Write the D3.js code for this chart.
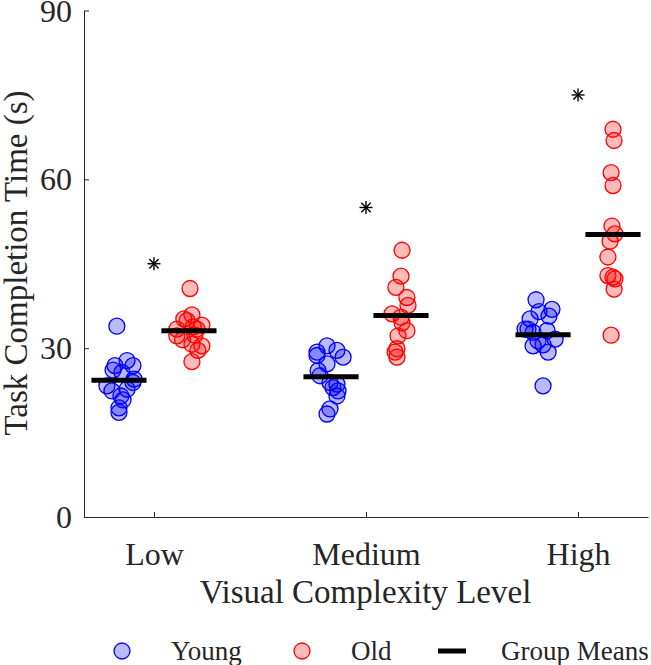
<!DOCTYPE html>
<html>
<head>
<meta charset="utf-8">
<script src="https://cdn.jsdelivr.net/npm/d3@7"></script>
<style>
  html, body { margin: 0; padding: 0; background: #fff; }
  svg { display: block; }
  text { font-family: "Liberation Serif", "Times New Roman", serif; fill: #262626; }
</style>
</head>
<body>
<svg id="chart" width="651" height="665"></svg>
<script>
// ---- data ----
const categories = ["Low", "Medium", "High"];
const groups = ["Young", "Old"];
const yTicks = [0, 30, 60, 90];

// individual times (s) per category, and horizontal jitter (category units)
const youngLow    = [33.9, 27.8, 26.9, 26.9, 26.1, 25.7, 24.5, 23.9, 23.3, 22.7, 22.4, 21.5, 20.8, 19.4, 18.6];
const youngLowJit = [-0.01, 0.038, -0.019, 0.066, -0.028, 0.014, 0.071, 0.066, -0.057, 0.038, -0.033, 0.009, 0.019, 0, 0];
const oldLow      = [40.6, 35.9, 35.2, 34.9, 34.1, 33.4, 33.4, 32.2, 32.3, 30.7, 30.4, 29.6, 27.6, 33.8, 31.5];
const oldLowJit   = [0.005, 0.014, -0.024, -0.009, 0.061, -0.057, 0.038, -0.057, 0.028, 0.014, 0.061, 0.042, 0.014, 0.02, -0.03];
const youngMed    = [30.4, 29.3, 29.6, 28.4, 28.7, 27.2, 26.0, 25.1, 23.9, 23.0, 22.4, 21.5, 19.2, 18.3, 23.6];
const youngMedJit = [-0.019, -0.066, 0.028, 0.057, -0.066, -0.019, -0.061, -0.052, -0.005, 0.009, 0.033, 0.028, -0.005, -0.019, 0.028];
const oldMed      = [47.4, 42.8, 40.8, 39.0, 37.6, 36.1, 35.5, 34.5, 33.1, 32.2, 29.9, 29.3, 28.4];
const oldMedJit   = [0.005, 0, -0.024, 0.028, 0.033, -0.042, 0, 0.005, 0.028, -0.014, -0.019, -0.028, -0.019];
const youngHigh   = [38.6, 36.9, 36.5, 35.7, 35.2, 33.4, 33.1, 32.8, 31.6, 31.3, 30.4, 30.6, 29.3, 23.3, 33.4];
const youngHighJit= [-0.033, 0.042, -0.019, 0.028, -0.061, -0.071, 0.019, -0.047, 0.057, -0.024, -0.047, 0, 0.024, 0, -0.085];
const oldHigh     = [68.9, 66.9, 61.2, 58.9, 51.7, 50.3, 49.0, 46.2, 42.9, 42.6, 42.3, 40.5, 32.3];
const oldHighJit  = [0, 0.005, -0.009, 0, -0.005, 0.009, -0.014, -0.024, -0.024, 0, 0.009, 0.005, -0.009];

const youngMeans = [24.3, 24.9, 32.4];
const oldMeans   = [33.1, 35.8, 50.2];
const sigMarks   = [45, 55, 75];   // asterisk heights

// ---- layout ----
const svg = d3.select("#chart");
const axisColor = "#262626";
const x = d3.scaleLinear().domain([0.67, 3.33]).range([84, 648]);
const y = d3.scaleLinear().domain([0, 90]).range([517, 10.5]);
const offset = 0.165;
const halfBar = 0.13;
const r = 8;

const colors = {
  Young: { stroke: "#0000ff", fill: "rgba(0,0,255,0.27)" },
  Old:   { stroke: "#ff0000", fill: "rgba(255,0,0,0.27)" }
};

const series = [
  { g: "Young", c: 0, v: youngLow,  j: youngLowJit },
  { g: "Old",   c: 0, v: oldLow,    j: oldLowJit },
  { g: "Young", c: 1, v: youngMed,  j: youngMedJit },
  { g: "Old",   c: 1, v: oldMed,    j: oldMedJit },
  { g: "Young", c: 2, v: youngHigh, j: youngHighJit },
  { g: "Old",   c: 2, v: oldHigh,   j: oldHighJit }
];

// ---- axes ----
const xAxis = d3.axisBottom(x).tickValues([1, 2, 3]).tickFormat((d) => categories[d - 1]).tickSizeInner(-5).tickSizeOuter(0);
const gx = svg.append("g").attr("transform", `translate(0,${y(0)})`).call(xAxis);
gx.select(".domain").attr("stroke", axisColor).attr("stroke-width", 1);
gx.selectAll(".tick line").attr("stroke", axisColor);
gx.selectAll(".tick text").attr("font-size", 32).attr("fill", axisColor)
  .attr("font-family", "Liberation Serif").attr("y", 0).attr("dy", 0)
  .attr("transform", "translate(0,48)");

const yAxis = d3.axisLeft(y).tickValues(yTicks).tickSizeInner(-5).tickSizeOuter(0);
const gy = svg.append("g").attr("transform", `translate(${x(0.67)},0)`).call(yAxis);
gy.select(".domain").attr("stroke", axisColor).attr("stroke-width", 1);
gy.selectAll(".tick line").attr("stroke", axisColor);
gy.selectAll(".tick text").attr("font-size", 32).attr("fill", axisColor)
  .attr("font-family", "Liberation Serif").attr("x", -12).attr("dy", "0.33em");

// axis titles
svg.append("text").attr("x", 365.5).attr("y", 603).attr("text-anchor", "middle")
  .attr("font-size", 33).text("Visual Complexity Level");
svg.append("text").attr("transform", "translate(27,263) rotate(-90)").attr("text-anchor", "middle")
  .attr("font-size", 33).text("Task Completion Time (s)");

// ---- points ----
series.forEach((s) => {
  const dx = s.g === "Young" ? -offset : offset;
  svg.append("g").selectAll("circle").data(s.v).join("circle")
    .attr("cx", (d, i) => x(s.c + 1 + dx + s.j[i]))
    .attr("cy", (d) => y(d))
    .attr("r", r)
    .attr("fill", colors[s.g].fill)
    .attr("stroke", colors[s.g].stroke)
    .attr("stroke-width", 1.3);
});

// ---- means ----
const meanData = [];
categories.forEach((c, i) => {
  meanData.push({ c: i + 1 - offset, v: youngMeans[i] });
  meanData.push({ c: i + 1 + offset, v: oldMeans[i] });
});
svg.append("g").selectAll("line").data(meanData).join("line")
  .attr("x1", (d) => x(d.c - halfBar)).attr("x2", (d) => x(d.c + halfBar))
  .attr("y1", (d) => y(d.v)).attr("y2", (d) => y(d.v))
  .attr("stroke", "#000").attr("stroke-width", 5);

// ---- significance asterisks ----
const star = svg.append("g").selectAll("g").data(sigMarks).join("g")
  .attr("transform", (d, i) => `translate(${x(i + 1)},${y(d)})`);
const s = 6.5;
[[-s, 0, s, 0], [0, -s, 0, s], [-s * 0.72, -s * 0.72, s * 0.72, s * 0.72], [-s * 0.72, s * 0.72, s * 0.72, -s * 0.72]].forEach((l) => {
  star.append("line").attr("x1", l[0]).attr("y1", l[1]).attr("x2", l[2]).attr("y2", l[3])
    .attr("stroke", "#000").attr("stroke-width", 1.4);
});

// ---- legend ----
const leg = svg.append("g");
const ly = 651;
leg.append("circle").attr("cx", 122).attr("cy", ly).attr("r", r)
  .attr("fill", colors.Young.fill).attr("stroke", colors.Young.stroke).attr("stroke-width", 1.3);
leg.append("text").attr("x", 171).attr("y", ly + 9).attr("font-size", 27).text(groups[0]);
leg.append("circle").attr("cx", 302).attr("cy", ly).attr("r", r)
  .attr("fill", colors.Old.fill).attr("stroke", colors.Old.stroke).attr("stroke-width", 1.3);
leg.append("text").attr("x", 351).attr("y", ly + 9).attr("font-size", 27).text(groups[1]);
leg.append("line").attr("x1", 438).attr("x2", 466).attr("y1", ly).attr("y2", ly)
  .attr("stroke", "#000").attr("stroke-width", 5);
leg.append("text").attr("x", 501).attr("y", ly + 9).attr("font-size", 27).text("Group Means");
</script>
</body>
</html>
